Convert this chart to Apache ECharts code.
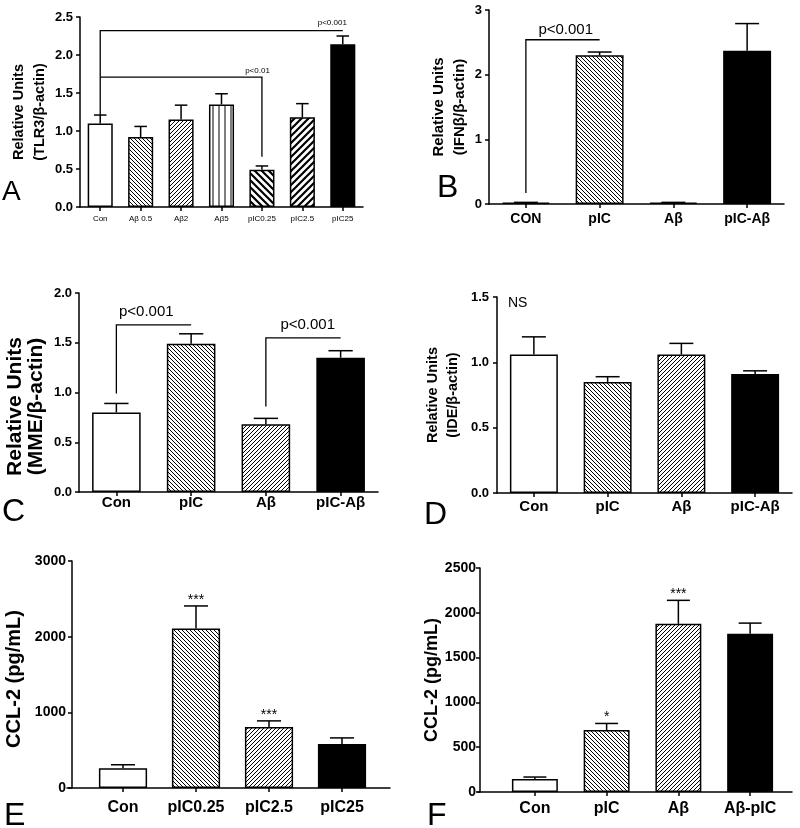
<!DOCTYPE html>
<html>
<head>
<meta charset="utf-8">
<script src="https://cdn.jsdelivr.net/npm/echarts@6.0.0/dist/echarts.min.js"></script>
<style>
html,body{margin:0;padding:0;background:#fff;}
#chart{width:800px;height:828px;}
</style>
</head>
<body>
<div id="chart"></div>
<script>
// ---------------- data ----------------
const catA = ['Con', 'Aβ 0.5', 'Aβ2', 'Aβ5', 'pIC0.25', 'pIC2.5', 'pIC25'];
const valA = [1.10, 0.92, 1.15, 1.35, 0.49, 1.18, 2.14];
const errA = [0.11, 0.14, 0.19, 0.14, 0.05, 0.18, 0.11];
const bracketsA = [[0, 1.21, 2.32, 6, null], [0, 1.71, 1.71, 4, 0.66]];
const pLabelsA = [['p<0.001', 5.74, 2.42], ['p<0.01', 3.89, 1.79]];
const nameA = ['Relative Units', '(TLR3/β-actin)'];

const catB = ['CON', 'pIC', 'Aβ', 'pIC-Aβ'];
const valB = [0.02, 2.30, 0.02, 2.37];
const errB = [0.005, 0.05, 0.005, 0.42];
const bracketsB = [[0, 0.17, 2.54, 1, null]];
const pLabelsB = [['p<0.001', 0.54, 2.69]];
const nameB = ['Relative Units', '(IFNβ/β-actin)'];

const catC = ['Con', 'pIC', 'Aβ', 'pIC-Aβ'];
const valC = [0.80, 1.49, 0.68, 1.35];
const errC = [0.09, 0.10, 0.06, 0.07];
const bracketsC = [[0, 0.99, 1.68, 1, null], [2, 0.86, 1.55, 3, null]];
const pLabelsC = [['p<0.001', 0.40, 1.81], ['p<0.001', 2.56, 1.68]];
const nameC = ['Relative Units', '(MME/β-actin)'];

const catD = ['Con', 'pIC', 'Aβ', 'pIC-Aβ'];
const valD = [1.06, 0.85, 1.06, 0.91];
const errD = [0.135, 0.04, 0.085, 0.025];
const notesD = [['NS', -0.22, 1.45]];
const nameD = ['Relative Units', '(IDE/β-actin)'];

const catE = ['Con', 'pIC0.25', 'pIC2.5', 'pIC25'];
const valE = [262, 2108, 805, 582];
const errE = [45, 298, 82, 80];
const starsE = ['', '***', '***', ''];
const nameE = ['CCL-2 (pg/mL)'];

const catF = ['Con', 'pIC', 'Aβ', 'Aβ-pIC'];
const valF = [145, 692, 1877, 1766];
const errF = [22, 73, 262, 119];
const starsF = ['', '*', '***', ''];
const nameF = ['CCL-2 (pg/mL)'];

// ---------------- styles ----------------
const FONT = 'Liberation Sans, Arial, sans-serif';
function hatch(kind, s, lw) {
  const c = document.createElement('canvas');
  c.width = s; c.height = s;
  const g = c.getContext('2d');
  g.fillStyle = '#fff'; g.fillRect(0, 0, s, s);
  g.strokeStyle = '#000'; g.lineWidth = lw;
  g.beginPath();
  if (kind === 'v') {
    g.moveTo(s / 2, 0); g.lineTo(s / 2, s);
  } else if (kind === '\\') {
    for (let k = -1; k <= 1; k++) { g.moveTo(-s, -s + k * s); g.lineTo(2 * s, 2 * s + k * s); }
  } else {
    for (let k = 0; k <= 2; k++) { g.moveTo(-s, s + k * s); g.lineTo(2 * s, -2 * s + k * s); }
  }
  g.stroke();
  return { image: c, repeat: 'repeat' };
}
const FILLS = {
  white: '#ffffff',
  black: '#000000',
  fineL: hatch('\\', 4, 1),
  fineR: hatch('/', 4, 1),
  vert: hatch('v', 6, 1),
  thickL: hatch('\\', 7, 2.2),
  thickR: hatch('/', 7, 2.2)
};
const fillA = ['white', 'fineL', 'fineR', 'vert', 'thickL', 'thickR', 'black'];
const fillB = ['white', 'fineL', 'fineR', 'black'];
const fillC = ['white', 'fineL', 'fineR', 'black'];
const fillD = ['white', 'fineL', 'fineR', 'black'];
const fillE = ['white', 'fineL', 'fineR', 'black'];
const fillF = ['white', 'fineL', 'fineR', 'black'];

// ---------------- builder ----------------
const grid = [], xAxis = [], yAxis = [], series = [];
const AX = { color: '#000', width: 1.5 };

function panel(cfg) {
  const gi = grid.length;
  grid.push({ left: cfg.box.left, top: cfg.box.top, width: cfg.box.width, height: cfg.box.height });
  xAxis.push({
    type: 'category', gridIndex: gi, data: cfg.cats,
    axisLine: { show: !cfg.frame, lineStyle: AX },
    axisTick: { show: true, alignWithLabel: true, length: 4, lineStyle: AX },
    axisLabel: { interval: 0, margin: cfg.xMargin, fontSize: cfg.xFont, fontWeight: cfg.xBold ? 'bold' : 'normal', color: '#000', fontFamily: FONT },
    splitLine: { show: false }
  });
  yAxis.push({
    type: 'value', gridIndex: gi, min: 0, max: cfg.yMax, interval: cfg.yStep, offset: cfg.yOffset || 0,
    axisLine: { show: true, lineStyle: AX },
    axisTick: { show: true, length: 4, lineStyle: AX },
    axisLabel: { margin: cfg.yMargin, fontSize: cfg.yFont, fontWeight: 'bold', color: '#000', fontFamily: FONT, formatter: v => v.toFixed(cfg.dec) },
    splitLine: { show: false },
    name: cfg.yName.map(s => '{l|' + s + '}').join('\n'), nameLocation: 'middle', nameRotate: 90, nameGap: cfg.nameGap,
    nameTextStyle: {
      color: '#000', padding: cfg.namePad || 0,
      rich: { l: { fontSize: cfg.nameSize, lineHeight: cfg.nameLH, fontWeight: 'bold', color: '#000', fontFamily: FONT } }
    }
  });
  if (cfg.frame) {
    const fi = grid.length;
    grid.push({ left: cfg.frame.left, top: cfg.box.top, width: cfg.frame.width, height: cfg.box.height });
    xAxis.push({ type: 'value', gridIndex: fi, min: 0, max: 1, axisLine: { show: true, onZero: false, lineStyle: AX }, axisTick: { show: false }, axisLabel: { show: false }, splitLine: { show: false } });
    yAxis.push({ type: 'value', gridIndex: fi, show: false, min: 0, max: 1 });
  }
  const barFrac = cfg.barFrac;
  series.push({
    type: 'bar', xAxisIndex: gi, yAxisIndex: gi, barWidth: (barFrac * 100) + '%',
    itemStyle: { borderColor: '#000', borderWidth: 1.5 },
    data: cfg.vals.map((v, i) => ({ value: v, itemStyle: { color: FILLS[cfg.fills[i]] } })),
    z: 2
  });
  series.push({
    type: 'custom', xAxisIndex: gi, yAxisIndex: gi, z: 3,
    encode: { x: 0, y: 1 },
    data: cfg.vals.map((v, i) => [i, v, cfg.errs[i]]),
    renderItem: (params, api) => {
      const i = api.value(0), v = api.value(1), e = api.value(2);
      const p0 = api.coord([i, v]);
      const p1 = api.coord([i, v + e]);
      const band = api.size([1, 0])[0];
      const half = band * barFrac / 4;
      const ls = { stroke: '#000', lineWidth: 1.5 };
      const children = [
        { type: 'line', shape: { x1: p0[0], y1: p0[1], x2: p1[0], y2: p1[1] }, style: ls },
        { type: 'line', shape: { x1: p1[0] - half, y1: p1[1], x2: p1[0] + half, y2: p1[1] }, style: ls }
      ];
      const st = cfg.stars ? cfg.stars[params.dataIndex] : '';
      if (st) {
        children.push({ type: 'text', x: p1[0], y: p1[1] + 1, style: { text: st, fill: '#000', fontSize: 14, fontFamily: FONT, align: 'center', verticalAlign: 'bottom' } });
      }
      return { type: 'group', children };
    }
  });
  if (cfg.brackets) {
    const br = cfg.brackets;
    series.push({
      type: 'custom', xAxisIndex: gi, yAxisIndex: gi, z: 4,
      encode: { x: 0, y: 1 },
      data: br.map(b => [b[0], b[1]]),
      renderItem: (params, api) => {
        const b = br[params.dataIndex];
        const pts = [api.coord([b[0], b[1]]), api.coord([b[0], b[2]]), api.coord([b[3], b[2]])];
        if (b[4] != null) pts.push(api.coord([b[3], b[4]]));
        return { type: 'polyline', shape: { points: pts }, style: { stroke: '#000', lineWidth: 1.3, fill: null } };
      }
    });
  }
  if (cfg.notes) {
    const nt = cfg.notes;
    series.push({
      type: 'custom', xAxisIndex: gi, yAxisIndex: gi, z: 5,
      encode: { x: 0, y: 1 },
      data: nt.map(n => [0, n[2]]),
      renderItem: (params, api) => {
        const n = nt[params.dataIndex];
        const base = api.coord([0, n[2]]);
        const band = api.size([1, 0])[0];
        return { type: 'text', x: base[0] + n[1] * band, y: base[1], style: { text: n[0], fill: '#000', fontSize: cfg.noteFont, fontFamily: FONT, align: 'center', verticalAlign: 'middle' } };
      }
    });
  }
}

panel({ cats: catA, vals: valA, errs: errA, fills: fillA, yMax: 2.5, yStep: 0.5, dec: 1,
  box: { left: 80, top: 17, width: 283, height: 190 }, barFrac: 0.62,
  xFont: 8, xBold: false, xMargin: 8, yFont: 13, yMargin: 7,
  yName: nameA, nameSize: 14.5, nameLH: 21, nameGap: 30,
  brackets: bracketsA, notes: pLabelsA, noteFont: 8 });

panel({ cats: catB, vals: valB, errs: errB, fills: fillB, yMax: 3, yStep: 1, dec: 0,
  box: { left: 489, top: 10, width: 295, height: 194 }, barFrac: 0.65,
  xFont: 14, xBold: true, xMargin: 8, yFont: 13, yMargin: 7,
  yName: nameB, nameSize: 15, nameLH: 20.5, nameGap: 19,
  brackets: bracketsB, notes: pLabelsB, noteFont: 15 });

panel({ cats: catC, vals: valC, errs: errC, fills: fillC, yMax: 2, yStep: 0.5, dec: 1,
  box: { left: 79, top: 293, width: 299, height: 199 }, barFrac: 0.65,
  xFont: 15, xBold: true, xMargin: 3, yFont: 13, yMargin: 7,
  yName: nameC, nameSize: 21, nameLH: 21, nameGap: 32, namePad: [0, 28, 0, 0],
  brackets: bracketsC, notes: pLabelsC, noteFont: 15 });

panel({ cats: catD, vals: valD, errs: errD, fills: fillD, yMax: 1.5, yStep: 0.5, dec: 1,
  box: { left: 497, top: 297, width: 295, height: 196 }, barFrac: 0.65,
  xFont: 15, xBold: true, xMargin: 6, yFont: 13, yMargin: 8,
  yName: nameD, nameSize: 14.5, nameLH: 20, nameGap: 34.5,
  notes: notesD, noteFont: 14 });

panel({ cats: catE, vals: valE, errs: errE, fills: fillE, yMax: 3000, yStep: 1000, dec: 0,
  box: { left: 86.5, top: 561, width: 292, height: 227 }, frame: { left: 67, width: 323 }, yOffset: 14.5,
  barFrac: 0.66, xFont: 16, xBold: true, xMargin: 12, yFont: 14, yMargin: 6,
  yName: nameE, nameSize: 20, nameLH: 20, nameGap: 47.5, namePad: [0, 9, 0, 0],
  stars: starsE });

panel({ cats: catF, vals: valF, errs: errF, fills: fillF, yMax: 2500, yStep: 500, dec: 0,
  box: { left: 499, top: 568, width: 287, height: 224 }, frame: { left: 478, width: 314 }, yOffset: 19,
  barFrac: 0.64, xFont: 16, xBold: true, xMargin: 9, yFont: 14, yMargin: 4,
  yName: nameF, nameSize: 18, nameLH: 18, nameGap: 38.5,
  stars: starsF });

const letter = (t, left, top, size) => ({ text: t, left, top, padding: 0, textStyle: { fontSize: size, fontWeight: 'normal', color: '#000', fontFamily: FONT } });

const chart = echarts.init(document.getElementById('chart'), null, { renderer: 'canvas' });
chart.setOption({
  animation: false,
  backgroundColor: '#fff',
  title: [
    letter('A', 2, 178, 28),
    letter('B', 437, 172, 32),
    letter('C', 2, 496, 32),
    letter('D', 424, 499, 32),
    letter('E', 4, 800, 32),
    letter('F', 427, 800, 32)
  ],
  grid, xAxis, yAxis, series
});
</script>
</body>
</html>
